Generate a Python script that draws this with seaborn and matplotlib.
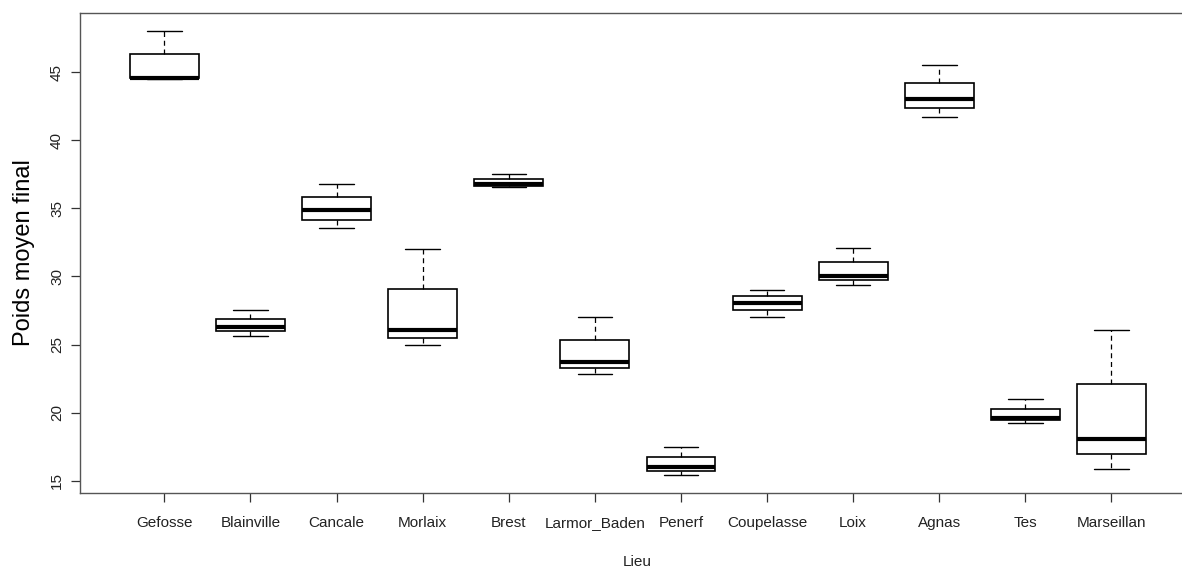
import numpy as np
import pandas as pd
import matplotlib
matplotlib.use("Agg")
import matplotlib.pyplot as plt
import seaborn as sns

# Five-number summaries of final mean weight per site
lieux = ["Gefosse", "Blainville", "Cancale", "Morlaix", "Brest", "Larmor_Baden",
         "Penerf", "Coupelasse", "Loix", "Agnas", "Tes", "Marseillan"]
minimum = [44.47, 25.65, 33.53, 24.99, 36.54, 22.83, 15.42, 27.04, 29.39, 41.73, 19.21, 15.86]
q1      = [44.55, 25.99, 34.16, 25.48, 36.66, 23.27, 15.71, 27.55, 29.74, 42.36, 19.46, 16.94]
median  = [44.60, 26.28, 34.90, 26.06, 36.76, 23.72, 15.98, 28.05, 30.03, 43.03, 19.63, 18.06]
q3      = [46.30, 26.90, 35.81, 29.05, 37.17, 25.33, 16.72, 28.54, 31.04, 44.22, 20.29, 22.08]
maximum = [48.00, 27.55, 36.76, 32.03, 37.54, 27.04, 17.50, 29.02, 32.10, 45.52, 21.00, 26.04]

# With five observations per site, the quartiles fall exactly on q1 / q3
rows = []
for i, lieu in enumerate(lieux):
    for v in (minimum[i], q1[i], median[i], q3[i], maximum[i]):
        rows.append({"Lieu": lieu, "Poids": v})
df = pd.DataFrame(rows)

sns.set_style("white")
plt.rcParams["font.family"] = ["Liberation Sans", "DejaVu Sans"]

W, H = 1182, 567
fig = plt.figure(figsize=(W / 100, H / 100), dpi=100)
left, right, top, bottom = 80, 1195, 12.7, 492.7
ax = fig.add_axes([left / W, (H - bottom) / H, (right - left) / W, (bottom - top) / H])

sns.boxplot(
    data=df, x="Lieu", y="Poids", order=lieux, ax=ax,
    whis=(0, 100), width=0.8, showfliers=False,
    color="white", linecolor="black", linewidth=1.0,
    boxprops=dict(linewidth=1.2),
    medianprops=dict(linewidth=3.0, color="black"),
    whiskerprops=dict(linestyle=(0, (4, 3)), linewidth=0.9),
    capprops=dict(linewidth=1.0),
)

ax.set_xlim(-0.98, 11.97)
ax.set_ylim(14.12, 49.36)
ax.set_yticks([15, 20, 25, 30, 35, 40, 45])
for lab in ax.get_yticklabels():
    lab.set_rotation(90)
    lab.set_va("center")
ax.tick_params(axis="y", direction="out", length=6.5, width=0.9, color="#333333",
               labelsize=11, labelcolor="#222222", pad=5, left=True)
ax.tick_params(axis="x", direction="out", length=6.5, width=0.9, color="#333333",
               labelsize=11, labelcolor="#222222", pad=10, bottom=True)

for s in ax.spines.values():
    s.set_visible(True)
    s.set_color("#555555")
    s.set_linewidth(1.0)

ax.set_xlabel("Lieu", fontsize=11, color="#222222", labelpad=18)
ax.set_ylabel("Poids moyen final", fontsize=17, color="black", labelpad=11)

fig.savefig("out.png", dpi=100)
